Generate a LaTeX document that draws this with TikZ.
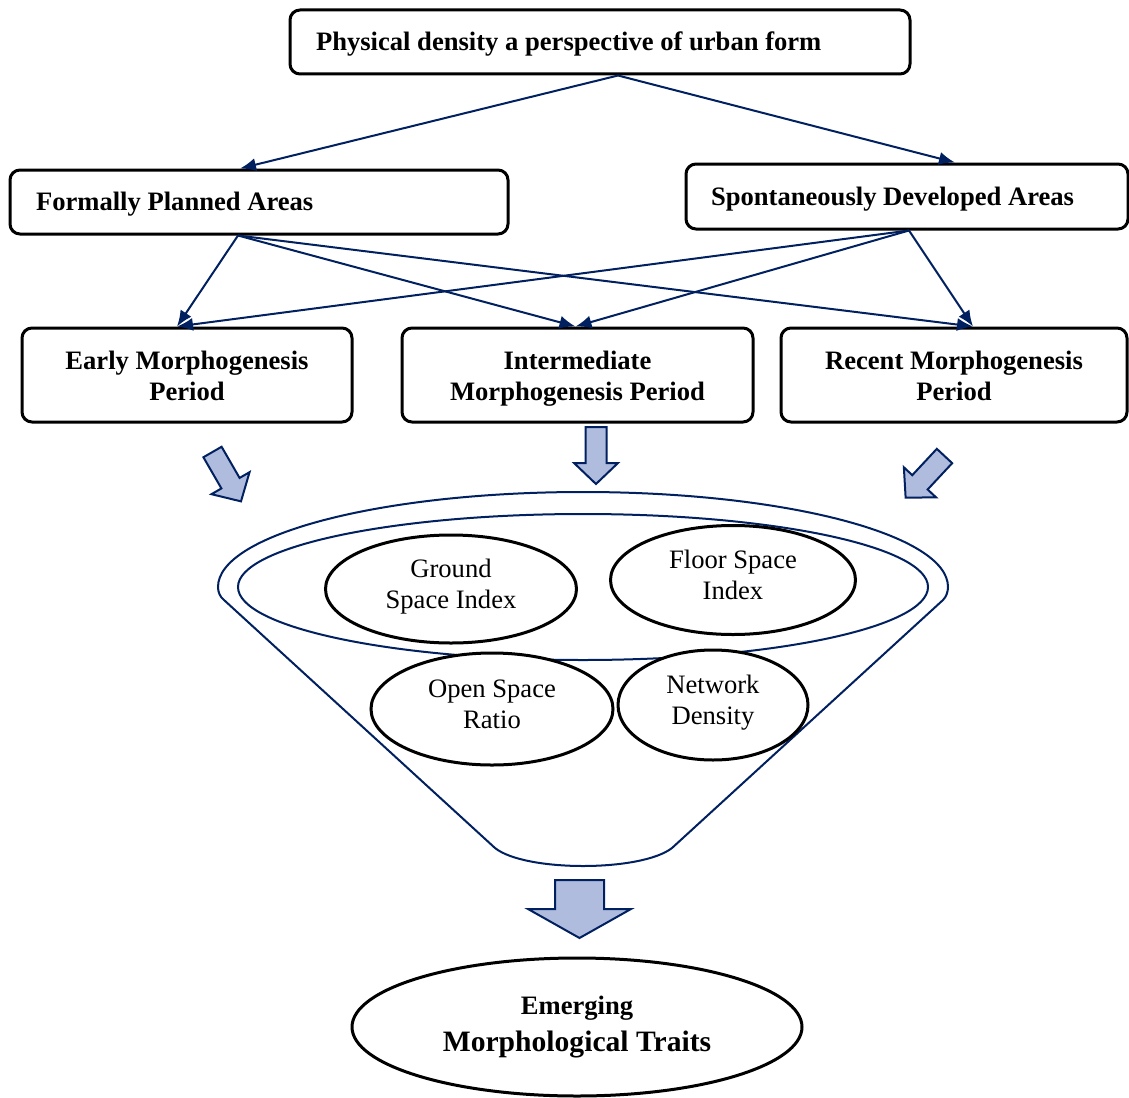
\documentclass[tikz,border=0pt]{standalone}
\usepackage{fontspec}
\setmainfont{Liberation Serif}
\usetikzlibrary{shapes.geometric,arrows.meta}
\definecolor{navy}{RGB}{0,32,96}
\definecolor{lightblue}{RGB}{176,188,222}
\newcommand\topstrut{\rule{0pt}{14.4pt}}
\newcommand\botstrut{\rule[-4.6pt]{0pt}{0pt}}
\newcommand\onestrut{\rule{0pt}{11.6pt}}
\newcommand\ovtop{\rule{0pt}{10.6pt}}
\newcommand\ovbot{\rule[-6.6pt]{0pt}{0pt}}
\begin{document}
\begin{tikzpicture}[x=0.5pt,y=-0.5pt,
  box/.style={draw=black, line width=1.5pt, rounded corners=5pt, font=\bfseries},
  conn/.style={draw=navy, line width=1pt, -{Latex[length=8pt,width=6.5pt]}},
  blk/.style={draw=navy, line width=1pt, fill=lightblue, line join=miter},
  oval/.style={ellipse, draw=black, line width=1.5pt, fill=white, align=center, inner sep=0pt},
  funnel/.style={draw=navy, line width=1pt},
  barrow/.pic={\draw[blk] (-10.5,0) -- (10.5,0) -- (10.5,36) -- (22,36) -- (0,57) -- (-22,36) -- (-10.5,36) -- cycle;}
]
\fontsize{13.3pt}{15.5pt}\selectfont
\useasboundingbox (0,0) rectangle (1129,1097);

% top boxes
\node[box, text width=284pt, inner xsep=13pt, minimum height=32pt, align=flush left] (top) at (600,42) {\onestrut Physical density a perspective of urban form};
\node[box, text width=223pt, inner xsep=13pt, minimum height=32pt, align=flush left] (fpa) at (259,202) {\onestrut Formally Planned Areas};
\node[box, text width=196pt, inner xsep=12.5pt, minimum height=32.5pt, align=flush left] (sda) at (907,196.5) {\onestrut Spontaneously Developed Areas};

% period boxes
\node[box, minimum width=165pt, minimum height=47pt, align=center] (early) at (187,375) {\topstrut Early Morphogenesis\\Period\botstrut};
\node[box, minimum width=175.5pt, minimum height=47pt, align=center] (inter) at (577.5,375) {\topstrut Intermediate\\Morphogenesis Period\botstrut};
\node[box, minimum width=173pt, minimum height=47pt, align=center] (recent) at (954,375) {\topstrut Recent Morphogenesis\\Period\botstrut};

% connectors
\draw[conn] ([xshift=9pt]top.south) -- ([xshift=-9.5pt]fpa.north);
\draw[conn] ([xshift=9pt]top.south) -- ([xshift=24pt]sda.north);
\draw[conn] ([xshift=-10.5pt]fpa.south) -- ([xshift=-5pt]early.north);
\draw[conn] ([xshift=-10.5pt]fpa.south) -- ([xshift=-1pt]inter.north);
\draw[conn] ([xshift=-10.5pt]fpa.south) -- ([xshift=9.5pt]recent.north);
\draw[conn] ([xshift=1pt]sda.south) -- ([xshift=-5pt]early.north);
\draw[conn] ([xshift=1pt]sda.south) -- ([xshift=-1pt]inter.north);
\draw[conn] ([xshift=1pt]sda.south) -- ([xshift=9.5pt]recent.north);

% block arrows
\pic[rotate=30] at (212.5,452) {barrow};
\pic at (596,427) {barrow};
\pic[rotate=-43] at (944.5,456) {barrow};

% funnel
\draw[funnel] (224,600) -- (495,848) .. controls (525,872) and (641,872) .. (672,848) -- (943,600)
  .. controls (946,597) and (948,592) .. (948,587)
  arc[start angle=0, end angle=-180, x radius=365, y radius=95]
  .. controls (218,592) and (220,597) .. (224,600);
\draw[funnel] (583,587) ellipse[x radius=345, y radius=73];

% indicator ellipses
\node[oval, minimum width=125.5pt, minimum height=54pt] (gsi) at (451,589) {\ovtop Ground\\Space Index\ovbot};
\node[oval, minimum width=122.5pt, minimum height=54.5pt] (fsi) at (733,580) {\ovtop Floor Space\\Index\ovbot};
\node[oval, minimum width=121pt, minimum height=56pt] (osr) at (492,709) {\ovtop Open Space\\Ratio\ovbot};
\node[oval, minimum width=95pt, minimum height=55pt] (nd) at (713,705) {\ovtop Network\\Density\ovbot};

% bottom arrow
\draw[blk] (555,880) -- (604,880) -- (604,909) -- (631,909) -- (579.5,938) -- (528,909) -- (555,909) -- cycle;

% result
\node[oval, minimum width=225pt, minimum height=69pt, font=\bfseries] (emt) at (577,1027) {Emerging\\[3pt]{\fontsize{14.8pt}{17pt}\selectfont Morphological Traits}};
\end{tikzpicture}
\end{document}
